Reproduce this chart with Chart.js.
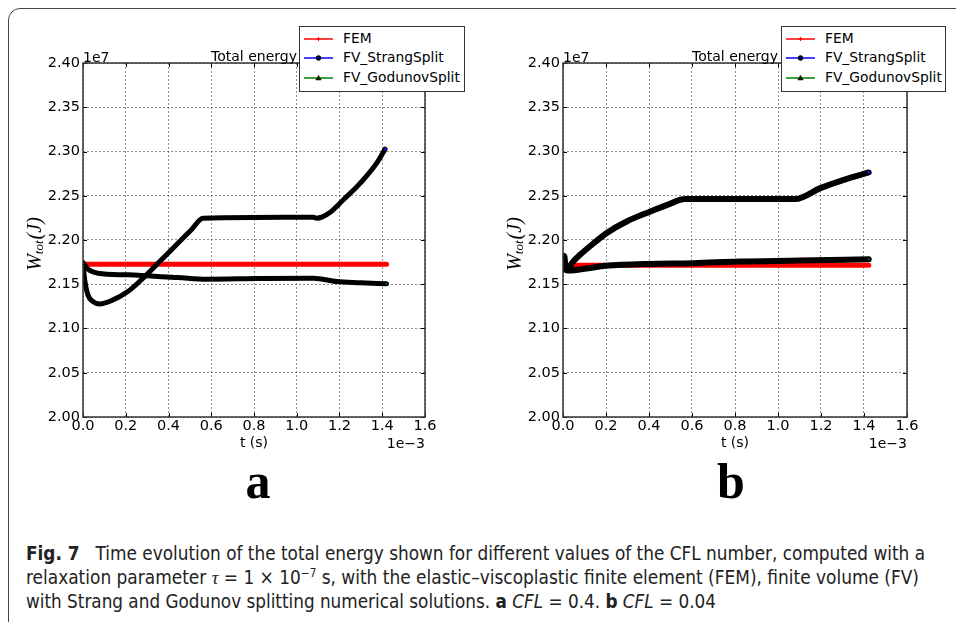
<!DOCTYPE html>
<html>
<head>
<meta charset="utf-8">
<script src="https://cdn.jsdelivr.net/npm/chart.js@4.4.1/dist/chart.umd.min.js"></script>
<style>
body { margin:0; width:956px; height:622px; overflow:hidden; background:#fff; position:relative; font-family:'DejaVu Sans', sans-serif; }
#frame { position:absolute; left:8px; top:8px; width:1100px; height:800px; border:1.5px solid #444; border-radius:12px; box-sizing:border-box; }
canvas { position:absolute; top:0; }
.legend { position:absolute; top:26px; height:64px; border:1px solid #333; background:#fff; font-size:13.8px; color:#000; }
.legend .row { position:absolute; left:0; height:20px; width:100%; }
.legend svg { position:absolute; left:4px; top:0; }
.legend span { position:absolute; left:43px; top:1px; white-space:nowrap; }
.letter { position:absolute; width:100px; text-align:center; font-family:'Liberation Serif', 'DejaVu Serif', serif; font-weight:bold; font-size:50px; line-height:50px; top:456px; }
.cap { position:absolute; left:26px; height:20px; white-space:nowrap; font-family:'Liberation Sans Narrow', 'DejaVu Sans Condensed', 'Open Sans', sans-serif; font-size:19.5px; line-height:20px; color:#222; transform-origin:0 0; }
.cap i.m { font-family:'Liberation Serif', serif; }
.cap .sup { position:relative; top:-7px; font-size:12px; line-height:0; }
</style>
</head>
<body>
<div id="frame"></div>

<canvas id="chartA" width="480" height="470" style="left:0px"></canvas>
<canvas id="chartB" width="476" height="470" style="left:480px"></canvas>

<div class="legend" style="left:299px; width:164px;" id="legA"></div>
<div class="legend" style="left:781px; width:163px;" id="legB"></div>

<div class="letter" style="left:208px">a</div>
<div class="letter" style="left:681px">b</div>

<div class="cap" data-w="899" style="top:544px"><b>Fig. 7</b>&nbsp;&nbsp; Time evolution of the total energy shown for different values of the CFL number, computed with a</div>
<div class="cap" data-w="893" style="top:568px">relaxation parameter <i class="m">τ</i> = 1 × 10<span class="sup">−7</span> s, with the elastic–viscoplastic finite element (FEM), finite volume (FV)</div>
<div class="cap" data-w="690" style="top:592px">with Strang and Godunov splitting numerical solutions. <b>a</b> <i>CFL</i> = 0.4. <b>b</b> <i>CFL</i> = 0.04</div>

<script>
// time in 1e-3 s, energy in 1e7 J
const xTickValues = [0, 0.2, 0.4, 0.6, 0.8, 1.0, 1.2, 1.4, 1.6]
const yTickValues = [2.00, 2.05, 2.10, 2.15, 2.20, 2.25, 2.30, 2.35, 2.40]
const seriesNames = ['FEM', 'FV_StrangSplit', 'FV_GodunovSplit']

// panel a, CFL = 0.4
const timeFemA = [0, 1.42]
const energyFemA = [2.1727, 2.1727]
const timeStrangA = [0, 0.008, 0.023, 0.047, 0.078, 0.133, 0.21, 0.289, 0.367, 0.444, 0.507, 0.561, 0.8, 1.078, 1.093, 1.12, 1.155, 1.218, 1.296, 1.374, 1.413]
const energyStrangA = [2.173, 2.155, 2.138, 2.1304, 2.1278, 2.1315, 2.1417, 2.1587, 2.1776, 2.1964, 2.2115, 2.2247, 2.2255, 2.2258, 2.2247, 2.2262, 2.231, 2.2454, 2.264, 2.2869, 2.3027]
const timeGodunovA = [0, 0.023, 0.07, 0.21, 0.444, 0.58, 0.819, 1.078, 1.188, 1.3, 1.42]
const energyGodunovA = [2.1745, 2.167, 2.1625, 2.1606, 2.1575, 2.1557, 2.1564, 2.1568, 2.153, 2.1518, 2.1505]

// panel b, CFL = 0.04
const timeFemB = [0, 1.422]
const energyFemB = [2.1715, 2.1715]
const timeStrangB = [0, 0.006, 0.012, 0.02, 0.045, 0.078, 0.141, 0.202, 0.296, 0.404, 0.497, 0.567, 0.8, 1.08, 1.197, 1.306, 1.422]
const energyStrangB = [2.171, 2.182, 2.168, 2.166, 2.175, 2.183, 2.196, 2.2077, 2.2209, 2.232, 2.2409, 2.2462, 2.2462, 2.2462, 2.2586, 2.268, 2.2763]
const timeGodunovB = [0, 0.02, 0.2, 0.4, 0.606, 0.82, 1.1, 1.422]
const energyGodunovB = [2.169, 2.1655, 2.1708, 2.173, 2.1738, 2.1757, 2.1767, 2.1783]

const FONT = 'DejaVu Sans'

function toPoints(ts, ws){
    return ts.map((t, i) => ({x: t, y: ws[i]}))
}

function lastOnly(r){
    return c => c.dataIndex === c.dataset.data.length - 1 ? r : 0
}

// frame, inner ticks, title, offsets and y label
const panelDecor = {
    id: 'panelDecor',
    afterDraw(chart){
        const ctx = chart.ctx
        const ca = chart.chartArea
        const xs = chart.scales.x
        const ys = chart.scales.y
        ctx.save()

        ctx.strokeStyle = '#000'
        ctx.lineWidth = 1
        ctx.beginPath()
        for (const v of xTickValues){
            const px = Math.round(xs.getPixelForValue(v)) + 0.5
            ctx.moveTo(px, ca.bottom); ctx.lineTo(px, ca.bottom - 4)
            ctx.moveTo(px, ca.top); ctx.lineTo(px, ca.top + 4)
        }
        for (const v of yTickValues){
            const py = Math.round(ys.getPixelForValue(v)) + 0.5
            ctx.moveTo(ca.left, py); ctx.lineTo(ca.left + 4, py)
            ctx.moveTo(ca.right, py); ctx.lineTo(ca.right - 4, py)
        }
        ctx.stroke()

        ctx.strokeStyle = '#333'
        ctx.lineWidth = 1.5
        ctx.strokeRect(ca.left, ca.top, ca.right - ca.left, ca.bottom - ca.top)

        ctx.fillStyle = '#000'
        ctx.font = '14px ' + FONT
        ctx.textBaseline = 'alphabetic'
        ctx.textAlign = 'center'
        ctx.fillText('Total energy', (ca.left + ca.right) / 2, ca.top - 2)
        ctx.fillText('t (s)', (ca.left + ca.right) / 2, ca.bottom + 30)
        ctx.textAlign = 'left'
        ctx.fillText('1e7', ca.left, ca.top - 1.5)
        ctx.textAlign = 'right'
        ctx.fillText('1e\u22123', ca.right, ca.bottom + 30.5)

        // W_tot(J), rotated
        ctx.translate(36, 244)
        ctx.rotate(-Math.PI / 2)
        const big = 'italic 20px "Liberation Serif", serif'
        const small = 'italic 13px "Liberation Serif", serif'
        ctx.font = big
        const wW = ctx.measureText('W').width
        const wJ = ctx.measureText('(J)').width
        ctx.font = small
        const wT = ctx.measureText('tot').width
        let x = -(wW + wT + wJ + 1) / 2
        ctx.textAlign = 'left'
        ctx.textBaseline = 'middle'
        ctx.font = big
        ctx.fillText('W', x, 0)
        x += wW
        ctx.font = small
        ctx.fillText('tot', x, 4)
        x += wT + 1
        ctx.font = big
        ctx.fillText('(J)', x, 0)
        ctx.restore()
    }
}

function makeChart(id, padRight, sets, blackWidth){
    const [fem, strang, godunov] = sets
    return new Chart(document.getElementById(id), {
        type: 'line',
        data: {
            datasets: [
                {label: seriesNames[0], data: toPoints(fem[0], fem[1]), borderColor: '#ff0000', borderWidth: 5,
                 pointRadius: 0, order: 3},
                {label: seriesNames[1], data: toPoints(strang[0], strang[1]), borderColor: '#000', borderWidth: blackWidth,
                 pointRadius: lastOnly(1.6), pointBorderWidth: 0, pointBackgroundColor: '#1010d0', order: 2},
                {label: seriesNames[2], data: toPoints(godunov[0], godunov[1]), borderColor: '#000', borderWidth: blackWidth,
                 pointRadius: lastOnly(1.8), pointBorderWidth: 0, pointStyle: 'triangle', pointBackgroundColor: '#005500', order: 1}
            ]
        },
        options: {
            responsive: false,
            animation: false,
            events: [],
            elements: {line: {cubicInterpolationMode: 'monotone', borderCapStyle: 'round', borderJoinStyle: 'round'}},
            layout: {padding: {top: 63, right: padRight, left: 0, bottom: 0}},
            plugins: {legend: {display: false}, tooltip: {enabled: false}, title: {display: false}},
            scales: {
                x: {
                    type: 'linear', min: 0, max: 1.6,
                    afterBuildTicks: s => { s.ticks = xTickValues.map(v => ({value: v})) },
                    afterFit: s => { s.height = 53 },
                    ticks: {callback: v => v.toFixed(1), autoSkip: false, maxRotation: 0, padding: 1,
                            color: '#000', font: {family: FONT, size: 14.5}},
                    grid: {color: 'rgba(0,0,0,0.55)', lineWidth: 0.8, drawTicks: false},
                    border: {display: false, dash: [2, 2]}
                },
                y: {
                    type: 'linear', min: 2.0, max: 2.4,
                    afterBuildTicks: s => { s.ticks = yTickValues.map(v => ({value: v})) },
                    afterFit: s => { s.width = 83 },
                    ticks: {callback: v => v.toFixed(2), autoSkip: false, padding: 3,
                            color: '#000', font: {family: FONT, size: 14.5}},
                    grid: {color: 'rgba(0,0,0,0.55)', lineWidth: 0.8, drawTicks: false},
                    border: {display: false, dash: [2, 2]}
                }
            }
        },
        plugins: [panelDecor]
    })
}

makeChart('chartA', 55, [[timeFemA, energyFemA], [timeStrangA, energyStrangA], [timeGodunovA, energyGodunovA]], 5)
makeChart('chartB', 49, [[timeFemB, energyFemB], [timeStrangB, energyStrangB], [timeGodunovB, energyGodunovB]], 6)

// legends
const legendMarkers = [
    '<line x1="0" y1="10" x2="29" y2="10" stroke="#ff0000" stroke-width="1.5"/><line x1="14.5" y1="8" x2="14.5" y2="12" stroke="#ff0000"/><line x1="12.5" y1="10" x2="16.5" y2="10" stroke="#ff0000"/>',
    '<line x1="0" y1="10" x2="29" y2="10" stroke="#0000ff" stroke-width="1.5"/><circle cx="14.5" cy="10" r="2.3" fill="#000040" stroke="#000"/>',
    '<line x1="0" y1="10" x2="29" y2="10" stroke="#008000" stroke-width="1.5"/><path d="M14.5 7.3 L17.2 12 L11.8 12 Z" fill="#002000" stroke="#000" stroke-width="0.5"/>'
]
const rowTops = [1.5, 21, 40.5]
for (const id of ['legA', 'legB']){
    const box = document.getElementById(id)
    let html = ''
    for (let i = 0; i < seriesNames.length; i++){
        html += '<div class="row" style="top:' + rowTops[i] + 'px"><svg width="30" height="20">' + legendMarkers[i] +
                '</svg><span>' + seriesNames[i] + '</span></div>'
    }
    box.innerHTML = html
}

// squeeze caption lines to the widths they have in the figure
for (const el of document.querySelectorAll('.cap')){
    const w = el.getBoundingClientRect().width
    el.style.transform = 'scaleX(' + (Number(el.dataset.w) / w) + ')'
}
</script>
</body>
</html>
